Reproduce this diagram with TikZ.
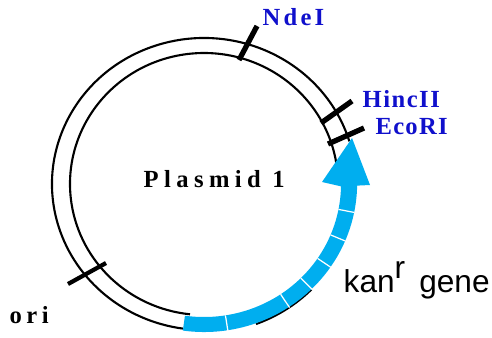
\documentclass[tikz,border=0pt]{standalone}
\usepackage{fontspec}
\setmainfont{Liberation Serif}
\setsansfont{Liberation Sans}
\usetikzlibrary{calc}
\definecolor{kanblue}{HTML}{00AEEF}
\definecolor{siteblue}{HTML}{1010CC}
\tikzset{
  ring/.style={draw=black, line width=0.6pt},
  cut/.style={draw=black, line width=1.5pt},
  spaced/.style={inner sep=0pt, anchor=base west,
    font=\bfseries\fontsize{7}{8}\selectfont\addfontfeature{LetterSpace=#1}},
  site/.style={spaced=#1, text=siteblue},
  gene/.style={inner sep=0pt, anchor=base west, font=\sffamily\fontsize{9}{10}\selectfont},
}

\begin{document}
\begin{tikzpicture}[x=1cm, y=1cm]
  \useasboundingbox (0,0) rectangle (4.92,3.37);
  \coordinate (c) at (2.04,1.53);
  % double wall of the plasmid
  \draw[ring] (c) ++(17:1.52 and 1.46) arc[start angle=17, end angle=262, x radius=1.52, y radius=1.46];
  \draw[ring] (c) ++(8.6:1.34 and 1.31) arc[start angle=8.6, end angle=264, x radius=1.34, y radius=1.31];
  \draw[ring] (c) ++(-70:1.52 and 1.49) arc[start angle=-70, end angle=-45, x radius=1.52, y radius=1.49];
  % kan^r gene as a thick arrow
  \fill[kanblue] (c) ++(-98:1.52 and 1.48) arc[start angle=-98, end angle=-1, x radius=1.53, y radius=1.49]
    -- (3.70,1.52) -- (3.52,1.99) -- (3.22,1.55)
    -- ($(c)+(-1:1.37 and 1.33)$) arc[start angle=-1, end angle=-98, x radius=1.37, y radius=1.33] -- cycle;
  \foreach \a in {-81,-56,-45,-34,-22.5,-11}
    \draw[white, line width=0.35pt] ($(c)+(\a:1.37 and 1.33)$) -- ($(c)+(\a:1.53 and 1.49)$);
  % restriction sites
  \draw[cut] (2.39,2.77) -- (2.57,3.11);
  \draw[cut] (3.21,2.14) -- (3.52,2.36);
  \draw[cut] (3.28,1.93) -- (3.64,2.09);
  \draw[cut, line width=1.2pt] (0.68,0.53) -- (1.06,0.74);
  % labels
  \node[site=13] (ndeI) at (2.62,3.12) {NdeI};
  \node[site=6] (hincII) at (3.62,2.30) {HincII};
  \node[site=5] (ecoRI) at (3.75,2.03) {EcoRI};
  \node[spaced=18] (ori) at (0.09,0.14) {ori};
  \node[spaced=22] (name) at (1.43,1.50) {Plasmid 1};
  \node[gene] (kan) at (3.43,0.45) {kan\raisebox{0.42em}{r}\ \,gene};
\end{tikzpicture}
\end{document}
